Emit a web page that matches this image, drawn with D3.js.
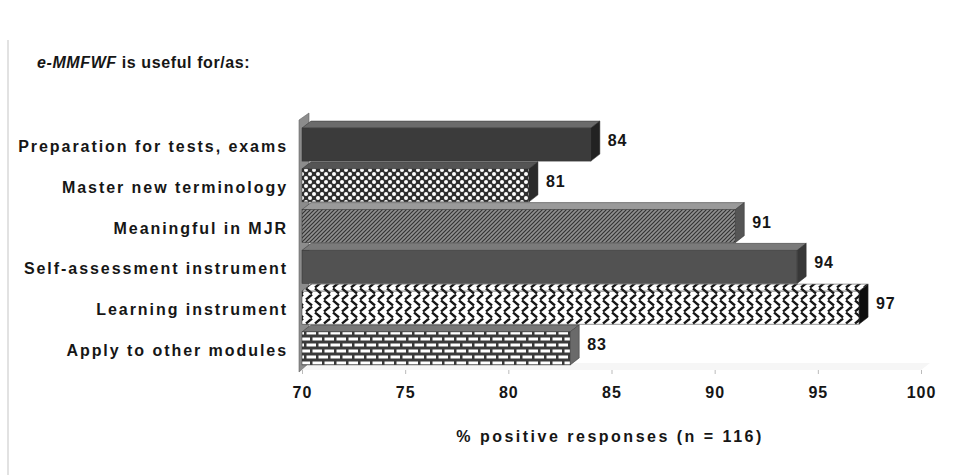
<!DOCTYPE html>
<html lang="en">
<head>
<meta charset="UTF-8">
<title>e-MMFWF usefulness</title>
<style>
    body { margin: 0; background: #fff; }
    svg text { font-family: "Liberation Sans", Arial, sans-serif; font-weight: bold; fill: #161616; }
</style>
</head>
<body>
<div id="chart"></div>
<script src="https://d3js.org/d3.v7.min.js"></script>
<script>
    // data
    const categories = [
        "Preparation for tests, exams",
        "Master new terminology",
        "Meaningful in MJR",
        "Self-assessment instrument",
        "Learning instrument",
        "Apply to other modules"
    ];
    const values = [84, 81, 91, 94, 97, 83];
    const ticks = [70, 75, 80, 85, 90, 95, 100];

    // one fill style per bar, top to bottom
    const fills = [
        { front: "#3b3b3b", top: "#6b6b6b", side: "#222" },
        { front: "url(#dots)", top: "#555", side: "#2a2a2a" },
        { front: "url(#hatch)", top: "#9a9a9a", side: "#555" },
        { front: "#525252", top: "#7a7a7a", side: "#383838" },
        { front: "url(#weave)", top: "url(#weave)", side: "#0d0d0d" },
        { front: "url(#brick)", top: "#777", side: "#6a6a6a" }
    ];

    const width = 978, height = 475;
    const dx = 9, dy = 7;   // 3d depth

    const svg = d3.select("#chart").append("svg")
        .attr("width", width)
        .attr("height", height);

    const defs = svg.append("defs");

    // white dots on dark
    let p = defs.append("pattern").attr("id", "dots")
        .attr("patternUnits", "userSpaceOnUse").attr("width", 8).attr("height", 8);
    p.append("rect").attr("width", 8).attr("height", 8).attr("fill", "#2e2e2e");
    p.append("circle").attr("cx", 2).attr("cy", 2).attr("r", 2).attr("fill", "#fff");
    p.append("circle").attr("cx", 6).attr("cy", 6).attr("r", 2).attr("fill", "#fff");

    // fine diagonal hatching
    p = defs.append("pattern").attr("id", "hatch")
        .attr("patternUnits", "userSpaceOnUse").attr("width", 4).attr("height", 4);
    p.append("rect").attr("width", 4).attr("height", 4).attr("fill", "#909090");
    p.append("path").attr("d", "M-1,1 L1,-1 M0,4 L4,0 M3,5 L5,3")
        .attr("stroke", "#333").attr("stroke-width", 1.2);

    // weave / zigzag
    p = defs.append("pattern").attr("id", "weave")
        .attr("patternUnits", "userSpaceOnUse").attr("width", 9).attr("height", 12);
    p.append("rect").attr("width", 9).attr("height", 12).attr("fill", "#fff");
    p.append("path").attr("d", "M0,0.5 L6,5.5 M-9,0.5 L-3,5.5 M9,0.5 L15,5.5 M0,11.5 L6,6.5 M9,11.5 L15,6.5 M-9,11.5 L-3,6.5")
        .attr("stroke", "#151515").attr("stroke-width", 2.4).attr("fill", "none");

    // brick
    p = defs.append("pattern").attr("id", "brick")
        .attr("patternUnits", "userSpaceOnUse").attr("width", 12).attr("height", 12);
    p.append("rect").attr("width", 12).attr("height", 12).attr("fill", "#3a3a3a");
    p.append("rect").attr("x", 0.5).attr("y", 1.5).attr("width", 9.5).attr("height", 3).attr("fill", "#fff");
    p.append("rect").attr("x", 6.5).attr("y", 7.5).attr("width", 9.5).attr("height", 3).attr("fill", "#fff");
    p.append("rect").attr("x", -5.5).attr("y", 7.5).attr("width", 9.5).attr("height", 3).attr("fill", "#fff");

    const x = d3.scaleLinear().domain([70, 100]).range([302, 921]);
    const y = d3.scaleBand().domain(categories).range([124, 369])
        .paddingInner(0.19).paddingOuter(0.1);

    const x0 = x(70);
    const yTop = 120, yBot = 370;

    // scan edge on the left
    svg.append("line").attr("x1", 8).attr("x2", 8).attr("y1", 40).attr("y2", 475)
        .attr("stroke", "#cfcfcf").attr("stroke-width", 1.2);

    // title
    const title = svg.append("text").attr("x", 37).attr("y", 68)
        .attr("font-size", 16).attr("letter-spacing", "0.6px");
    title.append("tspan").attr("font-style", "italic").text("e-MMFWF");
    title.append("tspan").text("  is useful for/as:");

    // floor and wall
    svg.append("path")
        .attr("d", `M${x0},${yBot} L${x0 + dx},${yBot - dy} L${x(100) + dx},${yBot - dy} L${x(100)},${yBot} Z`)
        .attr("fill", "#f6f6f6");
    svg.append("path")
        .attr("d", `M${x0 - 3},${yBot + 2} L${x0 - 3},${yTop} L${x0 + dx - 2},${yTop - dy} L${x0 + dx - 2},${yBot - dy} Z`)
        .attr("fill", "#8c8c8c").attr("stroke", "#666").attr("stroke-width", 0.6);

    // bars
    const bars = svg.append("g").selectAll("g")
        .data(categories)
        .enter().append("g");

    bars.append("path")   // top face
        .attr("d", (d, i) => {
            const y0 = y(d), x1 = x(values[i]);
            return `M${x0},${y0} L${x0 + dx},${y0 - dy} L${x1 + dx},${y0 - dy} L${x1},${y0} Z`;
        })
        .attr("fill", (d, i) => fills[i].top)
        .attr("stroke", "#333").attr("stroke-width", 0.5);

    bars.append("rect")   // front face
        .attr("x", x0)
        .attr("y", d => y(d))
        .attr("width", (d, i) => x(values[i]) - x0)
        .attr("height", y.bandwidth())
        .attr("fill", (d, i) => fills[i].front)
        .attr("stroke", "#333").attr("stroke-width", 0.5);

    bars.append("path")   // right side
        .attr("d", (d, i) => {
            const y0 = y(d), x1 = x(values[i]), h = y.bandwidth();
            return `M${x1},${y0} L${x1 + dx},${y0 - dy} L${x1 + dx},${y0 + h - dy} L${x1},${y0 + h} Z`;
        })
        .attr("fill", (d, i) => fills[i].side)
        .attr("stroke", "#333").attr("stroke-width", 0.5);

    // value labels
    svg.append("g").selectAll("text")
        .data(categories)
        .enter().append("text")
        .attr("x", (d, i) => x(values[i]) + dx + 8)
        .attr("y", d => y(d) + y.bandwidth() / 2 - 4)
        .attr("dy", "0.35em")
        .attr("font-size", 16)
        .attr("letter-spacing", "0.8px")
        .text((d, i) => values[i]);

    // category labels
    svg.append("g").selectAll("text")
        .data(categories)
        .enter().append("text")
        .attr("x", 288)
        .attr("y", d => y(d) + y.bandwidth() / 2 + 2)
        .attr("dy", "0.35em")
        .attr("text-anchor", "end")
        .attr("font-size", 16)
        .attr("letter-spacing", "1.95px")
        .text(d => d);

    // x axis
    const xAxis = svg.append("g")
        .attr("transform", `translate(0,${yBot})`)
        .call(d3.axisBottom(x).tickValues(ticks).tickSize(4).tickPadding(13));
    xAxis.select(".domain").remove();
    xAxis.selectAll("line").attr("stroke", "#bbb");
    xAxis.selectAll("text")
        .attr("font-size", 16)
        .attr("letter-spacing", "1px")
        .attr("font-family", null)
        .attr("fill", "#161616");

    svg.append("text")
        .attr("x", 610).attr("y", 442)
        .attr("text-anchor", "middle")
        .attr("font-size", 16)
        .attr("letter-spacing", "2.5px")
        .text("% positive responses (n = 116)");
</script>
</body>
</html>
